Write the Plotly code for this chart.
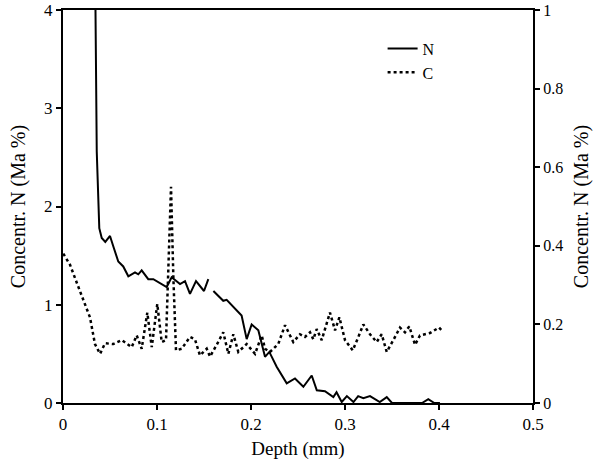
import plotly.graph_objects as go

# N concentration (left axis, Ma %)
n_depth1 = [0.0340, 0.0359, 0.0386, 0.0412, 0.0450, 0.0500, 0.0540, 0.0588, 0.0641, 0.0695,
            0.0766, 0.0801, 0.0837, 0.0907, 0.0961, 0.1030, 0.1103, 0.1156, 0.1245, 0.1298,
            0.1351, 0.1415, 0.1500, 0.1546]
n_conc1 = [4.6, 2.56, 1.78, 1.68, 1.64, 1.70, 1.58, 1.44, 1.39, 1.29,
           1.33, 1.31, 1.35, 1.26, 1.26, 1.22, 1.18, 1.28, 1.21, 1.24,
           1.11, 1.24, 1.14, 1.26]
n_depth2 = [0.1600, 0.1705, 0.1741, 0.1830, 0.1900, 0.1954, 0.2007, 0.2078, 0.2149, 0.2195,
            0.2273, 0.2380, 0.2468, 0.2557, 0.2646, 0.2700, 0.2787, 0.2876, 0.2910, 0.2965,
            0.3020, 0.3090, 0.3140, 0.3195, 0.3266, 0.3370, 0.3444, 0.3500, 0.3600, 0.3700,
            0.3820, 0.3886, 0.3950, 0.4010]
n_conc2 = [1.14, 1.04, 1.05, 0.96, 0.89, 0.65, 0.80, 0.74, 0.47, 0.52,
           0.37, 0.20, 0.25, 0.165, 0.28, 0.13, 0.12, 0.06, 0.11, 0.01,
           0.07, 0.01, 0.07, 0.05, 0.07, 0.01, 0.06, 0.0, 0.0, 0.0,
           0.0, 0.04, 0.0, 0.0]

# C concentration (right axis, Ma %)
c_depth = [0.0003, 0.0074, 0.0180, 0.0287, 0.0340, 0.0394, 0.0447, 0.0535, 0.0624, 0.0731,
           0.0784, 0.0837, 0.0897, 0.0944, 0.1003, 0.1050, 0.1096, 0.1120, 0.1149, 0.1174,
           0.1202, 0.1262, 0.1351, 0.1404, 0.1457, 0.1529, 0.1564, 0.1635, 0.1705, 0.1759,
           0.1812, 0.1865, 0.1954, 0.2043, 0.2114, 0.2149, 0.2202, 0.2290, 0.2362, 0.2450,
           0.2521, 0.2574, 0.2628, 0.2663, 0.2699, 0.2752, 0.2840, 0.2894, 0.2940, 0.3000,
           0.3082, 0.3142, 0.3195, 0.3266, 0.3337, 0.3390, 0.3444, 0.3514, 0.3585, 0.3638,
           0.3684, 0.3745, 0.3798, 0.3904, 0.4000, 0.4040]
c_conc = [0.380, 0.352, 0.285, 0.218, 0.150, 0.125, 0.152, 0.150, 0.160, 0.142,
          0.172, 0.138, 0.230, 0.142, 0.252, 0.155, 0.160, 0.320, 0.550, 0.320,
          0.134, 0.138, 0.168, 0.162, 0.121, 0.138, 0.118, 0.148, 0.180, 0.125,
          0.175, 0.130, 0.150, 0.125, 0.172, 0.138, 0.130, 0.150, 0.198, 0.155,
          0.175, 0.168, 0.180, 0.162, 0.188, 0.160, 0.230, 0.185, 0.218, 0.160,
          0.134, 0.168, 0.200, 0.175, 0.155, 0.175, 0.130, 0.160, 0.192, 0.180,
          0.195, 0.148, 0.172, 0.178, 0.192, 0.182]

x_ticks = [0, 0.1, 0.2, 0.3, 0.4, 0.5]
y_left_ticks = [0, 1, 2, 3, 4]
y_right_ticks = [0, 0.2, 0.4, 0.6, 0.8, 1]

FONT = "Liberation Serif, Times New Roman, serif"

fig = go.Figure()
fig.add_trace(go.Scatter(x=n_depth1, y=n_conc1, mode="lines", name="N",
                         line=dict(color="black", width=2), legendgroup="N"))
fig.add_trace(go.Scatter(x=n_depth2, y=n_conc2, mode="lines", name="N",
                         line=dict(color="black", width=2), legendgroup="N", showlegend=False))
fig.add_trace(go.Scatter(x=c_depth, y=c_conc, mode="lines", name="C", yaxis="y2",
                         line=dict(color="black", width=2.5, dash="dot")))

axis_common = dict(showgrid=False, zeroline=False, showline=True, linecolor="black",
                   linewidth=2, ticks="outside", ticklen=5, tickwidth=2, tickcolor="black",
                   ticklabeloverflow="allow", automargin=False)

fig.update_layout(
    width=602, height=464,
    margin=dict(l=63, r=69, t=10, b=61, autoexpand=False),
    paper_bgcolor="white", plot_bgcolor="white",
    font=dict(family=FONT, color="black"),
    xaxis=dict(range=[0, 0.5], tickvals=x_ticks, ticktext=[str(v) for v in x_ticks],
               tickfont=dict(family=FONT, size=17, color="black"),
               title=dict(text="Depth (mm)", font=dict(family=FONT, size=19), standoff=8),
               mirror=True, **axis_common),
    yaxis=dict(range=[0, 4], tickvals=y_left_ticks, ticktext=[str(v) for v in y_left_ticks],
               tickfont=dict(family=FONT, size=17, color="black"),
               title=dict(text="Concentr. N (Ma %)", font=dict(family=FONT, size=20), standoff=13),
               **axis_common),
    yaxis2=dict(range=[0, 1], tickvals=y_right_ticks, ticktext=[str(v) for v in y_right_ticks],
                tickfont=dict(family=FONT, size=16, color="black"),
                overlaying="y", side="right",
                title=dict(text="Concentr. N (Ma %)", font=dict(family=FONT, size=20), standoff=12),
                **axis_common),
    legend=dict(x=0.68, y=0.945, xanchor="left", yanchor="top", bgcolor="rgba(0,0,0,0)",
                font=dict(family=FONT, size=16, color="black"), tracegroupgap=0,
                itemwidth=30),
    showlegend=True,
)

fig.write_html("out.html", config={"displayModeBar": False},
               post_script="document.body.style.margin='0';document.body.style.padding='0';")
